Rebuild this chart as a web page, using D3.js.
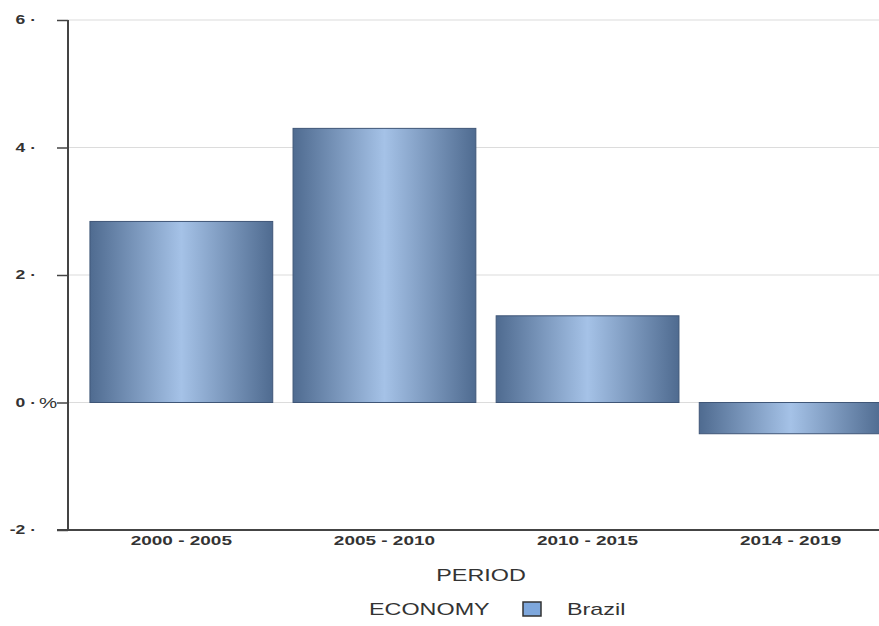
<!DOCTYPE html>
<html>
<head>
<meta charset="utf-8">
<script src="https://cdn.jsdelivr.net/npm/d3@7"></script>
<style>
  html, body { margin: 0; padding: 0; background: #fff; }
  svg { display: block; font-family: "Liberation Sans", Arial, sans-serif; }
</style>
</head>
<body>
<svg id="chart" width="879" height="626"></svg>
<script>
// Average annual growth, Brazil, by period (%)
const periods = ["2000 - 2005", "2005 - 2010", "2010 - 2015", "2014 - 2019"];
const growth = [2.84, 4.30, 1.36, -0.49];
const yTicks = [-2, 0, 2, 4, 6];
const seriesName = "Brazil";

const svg = d3.select("#chart");
const plotLeft = 68, plotTop = 20, plotBottom = 530, plotRight = 904;
const stretchX = 1.46;

// widen glyphs horizontally, keeping each text's anchor point in place
function stretch(sel, k) {
  sel.each(function () {
    const t = d3.select(this);
    const tx = +t.attr("x") || 0, ty = +t.attr("y") || 0;
    t.attr("x", 0).attr("y", 0)
     .attr("transform", `translate(${tx},${ty}) scale(${k},1)`);
  });
}

const x = d3.scaleBand()
  .domain(periods)
  .range([plotLeft, plotRight])
  .paddingInner(0.1)
  .paddingOuter(0.108);

const y = d3.scaleLinear().domain([-2, 6]).range([plotBottom, plotTop]);

// bar gradient: dark edges, light centre
const defs = svg.append("defs");
const grad = defs.append("linearGradient")
  .attr("id", "barGrad").attr("x1", "0%").attr("x2", "100%").attr("y1", "0%").attr("y2", "0%");
[[0, "#4f6b90"], [0.5, "#a5c2e7"], [1, "#4f6b90"]].forEach(([o, c]) =>
  grad.append("stop").attr("offset", o).attr("stop-color", c));

// gridlines
svg.append("g")
  .selectAll("line")
  .data(yTicks)
  .join("line")
  .attr("x1", plotLeft).attr("x2", 879)
  .attr("y1", d => y(d)).attr("y2", d => y(d))
  .attr("stroke", "#dcdcdc").attr("stroke-width", 1.2);

// bars
svg.append("g")
  .selectAll("rect")
  .data(periods.map((p, i) => ({ p, v: growth[i] })))
  .join("rect")
  .attr("x", d => x(d.p))
  .attr("width", x.bandwidth())
  .attr("y", d => y(Math.max(0, d.v)))
  .attr("height", d => Math.abs(y(d.v) - y(0)))
  .attr("fill", "url(#barGrad)")
  .attr("stroke", "#3f5677")
  .attr("stroke-width", 1);

// y axis
const yAxis = svg.append("g")
  .attr("transform", `translate(${plotLeft},0)`)
  .call(d3.axisLeft(y).tickValues(yTicks).tickSize(11).tickPadding(21)
    .tickFormat(d => d + " \u00b7"));
yAxis.select(".domain").attr("stroke", "#444").attr("stroke-width", 2)
  .attr("d", `M0,${plotTop}V${plotBottom}`);
yAxis.selectAll(".tick line").attr("stroke", "#444").attr("stroke-width", 1.5);
yAxis.selectAll(".tick text").attr("fill", "#333").attr("font-size", 12).attr("font-weight", "bold")
  .call(stretch, stretchX);

// y axis unit
svg.append("text")
  .attr("x", 39).attr("y", y(0) + 5)
  .attr("font-size", 14).attr("fill", "#333")
  .text("%")
  .call(stretch, stretchX);

// x axis
const xAxis = svg.append("g")
  .attr("transform", `translate(0,${plotBottom})`)
  .call(d3.axisBottom(x).tickSize(0).tickPadding(6));
xAxis.select(".domain").attr("stroke", "#444").attr("stroke-width", 2)
  .attr("d", `M57,0H879`);
xAxis.selectAll(".tick text").attr("fill", "#333").attr("font-size", 13).attr("font-weight", "bold")
  .call(stretch, stretchX);

// x axis title
svg.append("text")
  .attr("x", 481).attr("y", 581)
  .attr("text-anchor", "middle")
  .attr("font-size", 16).attr("fill", "#333")
  .text("PERIOD")
  .call(stretch, stretchX);

// legend
const legend = svg.append("g");
legend.append("text")
  .attr("x", 369).attr("y", 615)
  .attr("font-size", 16).attr("fill", "#333")
  .text("ECONOMY")
  .call(stretch, stretchX);
legend.append("rect")
  .attr("x", 523).attr("y", 602).attr("width", 18).attr("height", 14)
  .attr("fill", "#7ea7dc").attr("stroke", "#333").attr("stroke-width", 1.5);
legend.append("text")
  .attr("x", 567).attr("y", 615)
  .attr("font-size", 16).attr("fill", "#333")
  .text(seriesName)
  .call(stretch, stretchX);
</script>
</body>
</html>
